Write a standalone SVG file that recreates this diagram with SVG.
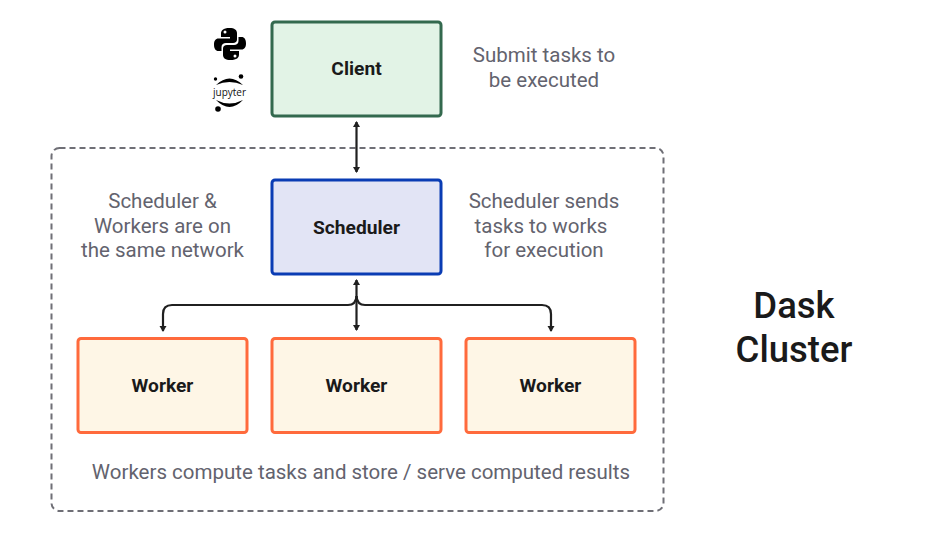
<svg xmlns="http://www.w3.org/2000/svg" width="931" height="545" viewBox="0 0 931 545">
<style>
text{font-family:Roboto,"Liberation Sans",sans-serif;text-anchor:middle}
.n{font-weight:700;font-size:19.200px;fill:#1a1a1a}
.c{font-size:20.500px;fill:#63636e}
.b{stroke-width:3px}
.w{fill:#fef6e6;stroke:#ff6a3c}
.cn{fill:none;stroke:#202020;stroke-width:2.200px;marker-end:url(#a)}
.cs{fill:none;stroke:#202020;stroke-width:2.200px;marker-end:url(#a);marker-start:url(#s)}
</style>
<defs>
<marker id="a" markerWidth="8" markerHeight="8" refX="5" refY="4" orient="auto" markerUnits="userSpaceOnUse"><path d="M0 0.500L6 4L0 7.500Z" fill="#202020"/></marker>
<marker id="s" markerWidth="8" markerHeight="8" refX="1" refY="4" orient="auto" markerUnits="userSpaceOnUse"><path d="M6 0.500L0 4L6 7.500Z" fill="#202020"/></marker>
</defs>
<rect width="931" height="545" fill="#fff"/>
<rect id="cluster" x="51.500" y="148" width="612" height="363" rx="8" fill="none" stroke="#6f6f76" stroke-width="2" stroke-dasharray="6 4"/>
<g id="connectors">
<path class="cs" d="M356.500 122V172"/>
<path class="cs" d="M356.500 280V330"/>
<path class="cn" d="M356.500 296Q356 305 348 305H172Q163 305 163 314V331"/>
<path class="cn" d="M356.500 296Q357 305 365 305H542Q551 305 551 314V331"/>
</g>
<g id="client"><rect class="b" x="272" y="22" width="169" height="94" rx="3" fill="#e2f3e6" stroke="#33694e"/><text class="n" x="356.500" y="75">Client</text></g>
<g id="scheduler"><rect class="b" x="272" y="180" width="169" height="94" rx="3" fill="#e2e4f5" stroke="#0a3cb4"/><text class="n" x="356.500" y="233.500">Scheduler</text></g>
<g id="worker1"><rect class="b w" x="78" y="338.500" width="169" height="94" rx="3"/><text class="n" x="162.500" y="392">Worker</text></g>
<g id="worker2"><rect class="b w" x="272" y="338.500" width="169" height="94" rx="3"/><text class="n" x="356.500" y="392">Worker</text></g>
<g id="worker3"><rect class="b w" x="466" y="338.500" width="169" height="94" rx="3"/><text class="n" x="550.500" y="392">Worker</text></g>
<g id="python-logo">
<path d="M229.500 28C223 28 221 30.500 221 33.500V37H230V38.500H218.500C215.500 38.500 214 41 214 44.500C214 48.500 215.500 51 218.500 51H221.500V47C221.500 44.500 223.500 43 226 43H233C235.500 43 237 41.500 237 39.500V33C237 30 234.500 28 229.500 28ZM225 30.500A1.500 1.500 0 1 1 225 33.500A1.500 1.500 0 1 1 225 30.500Z" fill="#000"/>
<path d="M230.500 60C237 60 239 57.500 239 54.500V51H230V49.500H241.500C244.500 49.500 246 47 246 43.500C246 39.500 244.500 37 241.500 37H238.500V41C238.500 43.500 236.500 45 234 45H227C224.500 45 223 46.500 223 48.500V55C223 58 225.500 60 230.500 60ZM235 57.500A1.500 1.500 0 1 1 235 54.500A1.500 1.500 0 1 1 235 57.500Z" fill="#000"/>
</g>
<g id="jupyter-logo">
<path d="M216 85Q229.500 72 243 85Q229.500 79 216 85Z" fill="#000"/>
<path d="M216 100Q229.500 114 243 100Q229.500 107 216 100Z" fill="#000"/>
<circle cx="241" cy="76.500" r="2.300" fill="#000"/><circle cx="215.500" cy="79" r="1.700" fill="#000"/><circle cx="218" cy="109" r="2.800" fill="#000"/>
<text x="229.500" y="96" style="font-size:10px;fill:#111;font-family:'Open Sans',sans-serif">jupyter</text>
</g>
<g id="labels">
<text class="c" x="544" y="62">Submit tasks to</text><text class="c" x="544" y="86.500">be executed</text>
<text class="c" x="162.500" y="208">Scheduler &amp;</text><text class="c" x="162.500" y="232.500">Workers are on</text><text class="c" x="162.500" y="256.500">the same network</text>
<text class="c" x="544" y="208">Scheduler sends</text><text class="c" x="541" y="232.500">tasks to works</text><text class="c" x="544" y="256.500">for execution</text>
<text class="c" x="361" y="479">Workers compute tasks and store / serve computed results</text>
<text x="794" y="318" style="font-size:36.500px;font-weight:500;fill:#1a1a1a">Dask</text><text x="794" y="362" style="font-size:36.500px;font-weight:500;fill:#1a1a1a">Cluster</text>
</g>
</svg>
